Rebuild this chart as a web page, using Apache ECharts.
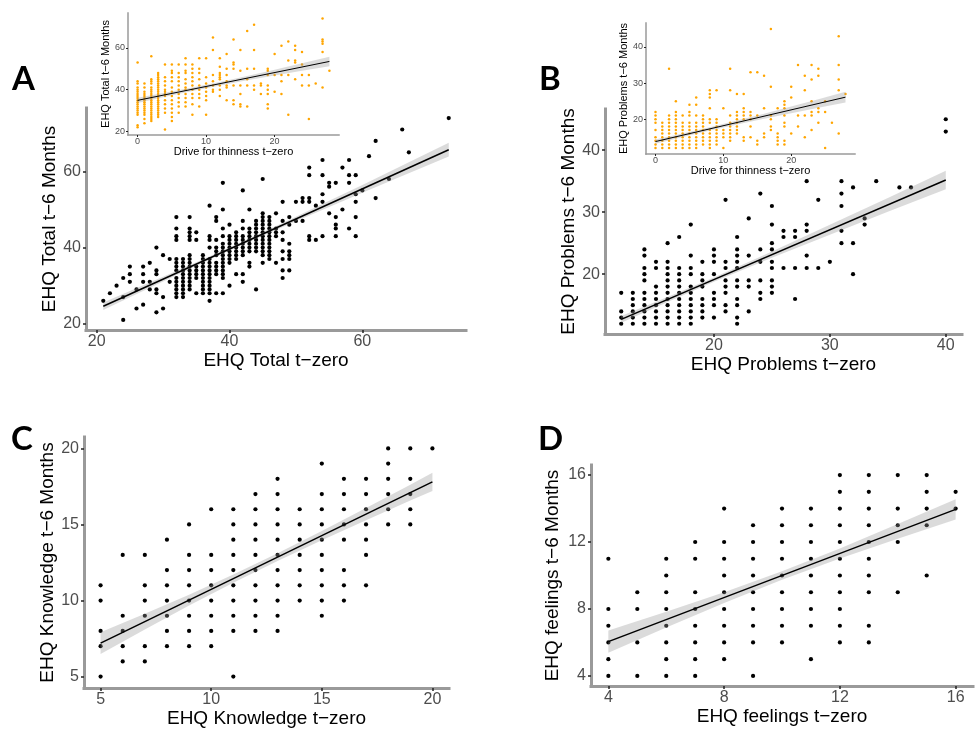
<!DOCTYPE html>
<html><head><meta charset="utf-8">
<script src="https://cdn.jsdelivr.net/npm/echarts@6/dist/echarts.min.js"></script>
<style>html,body{margin:0;padding:0;background:#fff}#c{width:977px;height:729px}</style>
</head><body><div id="c"></div>
<script>
// ---------- Panel A: EHQ Total ----------
const aX = [21,22,23,24,25,26,27,28,29,30,31,32,33,34,35,36,37,38,39,40,41,42,43,44,45,46,47,48,49,50,51,52,53,54,55,56,57,58,59,60,61,62,64,66,67,73];
const aY = [[26],[28],[30],[32,27,21],[35,33,31],[29,24],[35,33,31,25],[36,31,29],[40,34,33,29,28,23],[38,27,24],[37,31],
 [48,45,43,42,37,36,35,34,32,31,30,29,28,27],[37,36,35,34,33,32,31,30,29,28,27],[48,45,44,43,42,38,37,36,35,34,33,32,31,30,29],
 [44,42,35,34,33,32,28],[38,37,36,35,34,33,32,31,30,29,28],[51,43,42,40,37,36,35,34,33,32,31,30,29,28,26],
 [48,47,42,40,39,38,36,35,34,33,28],[57,50,45,43,41,40,39,38,37,36,35,34,33,32,28],[46,43,42,41,40,39,38,37,36,30],
 [44,43,42,41,40,39,38,37,33],[55,47,45,43,42,41,40,39,38,33,31],[50,45,44,43,42,41,40,39,36,35],[47,46,45,44,43,42,41,40,39,29],
 [58,49,48,47,46,45,44,43,42,41,40,39,38,36],[48,47,46,45,44,43,42,41,40,39,38,37],[49,45,44,43,36],[52,47,44,42,39,37,34,32],
 [48,46,41,39,38,37,34],[52,47],[53,52,47],[61,59,53,52,43,42],[51,42],[63,59,54,52,43],[57,56,49],[57,48,46,45,43],[61,50],
 [63,59,57,45],[59,54,52,48,43],[55],[64],[68,53],[58],[71],[65],[74]];
const aFit = [21, 24.6, 73, 65.7];
const aBandX = [21,25,30,35,40,45,50,55,60,65,73];
const aBandHalf = [1.0,0.8,0.6,0.45,0.4,0.45,0.6,0.8,1.0,1.3,1.8];
const aTicksX = [20,40,60], aTicksY = [20,40,60];

// ---------- Inset A: Drive for thinness vs EHQ Total ----------
const iaX = [0,1,2,3,4,5,6,7,8,9,10,11,12,13,14,15,16,17,18,19,20,21,22,23,24,25,26,27,28];
const iaY = [[53,44,43,41,40,39,38,37,36,35,34,33,32,31,30,29,28,23,22],[43,41,39,38,37,36,35,34,33,32,31,30,29,28,26,24],
 [56,45,44,43,41,40,39,38,37,36,35,34,33,32,31,30,29,28,27,26,25],[48,47,46,45,44,43,42,41,40,39,38,37,36,35,34,33,32,31,30,29,28,27],
 [52,46,44,42,40,39,38,37,35,33,31,29,21],[52,49,48,46,44,41,39,37,35,33,31,29,27,25],[52,48,46,44,42,40,38,36,34,32,29],
 [55,52,49,48,45,43,41,40,38,36,34,32],[52,50,48,46,44,42,40,38,36,33,28],[55,50,48,45,42,40,38,36,32],[55,46,43,41,39,37,35,28],
 [65,59,47,44,42,40,39],[55,51,48,47,46,45,42,40,37],[57,50,47,44,42,41,35],[64,53,52,50,42,35,33],[59,49,42,38,33,32],
 [68,50,45,42,32],[71,59,50,42,40],[43,42,38],[50,49,47,42,40,38,33,31],[57,47,39],[61,47,44,38],[63,54,47,28],[61,59,54,53,45],
 [58,52,47,42],[47,42,26],[43],[74,64,63,62,58,41],[49]];
const iaFit = [0, 34.9, 28, 53.5];
const iaBandX = [0,4,8,12,16,20,24,28];
const iaBandHalf = [1.2,0.95,0.8,0.85,1.05,1.4,1.8,2.3];
const iaTicksX = [0,10,20], iaTicksY = [20,40,60];

// ---------- Panel B: EHQ Problems ----------
const bX = [12,13,14,15,16,17,18,19,20,21,22,23,24,25,26,27,28,29,30,31,32,33,34,36,37,40];
const bY = [[17,14,13,12],[17,16,15,14,13,12],[24,23,21,20,19,17,16,15,14,13,12],[22,21,18,17,16,15,14,13,12],
 [25,22,21,20,19,18,17,16,15,14,13,12],[26,21,20,19,18,17,16,15,14,13,12],[28,23,21,20,18,17,16,15,14,13,12],
 [22,20,19,18,16,15,14,13],[24,23,22,20,17,16,15,13],[32,22,21,19,18,17,15,14],[26,24,23,22,21,19,18,16,15,13,12],
 [29,23,19,18,14],[33,24,22,19,17,16],[31,28,25,24,22,21,19,18,17],[27,26,21],[27,26,21,16],[35,28,27,23,21],[32,21],[22],
 [35,33,31,27,25],[34,25,20],[29,28],[35],[34],[34],[45,43]];
const bFit = [12, 12.7, 40, 35.2];
const bBandX = [12,16,20,25,30,35,40];
const bBandHalf = [0.55,0.4,0.35,0.5,0.8,1.1,1.5];
const bTicksX = [20,30,40], bTicksY = [20,30,40];

// ---------- Inset B: Drive for thinness vs EHQ Problems ----------
const ibX = [0,1,2,3,4,5,6,7,8,9,10,11,12,13,14,15,16,17,18,19,20,21,22,23,24,25,26,27,28];
const ibY = [[22,21,20,19,17,15,14,13,12],[19,18,17,16,15,14,13,12],[34,21,20,19,18,17,16,15,14,13,12],
 [25,22,21,20,19,18,17,16,15,14,13,12],[21,19,18,17,16,15,14,13,12],[24,22,21,19,18,17,16,15,14,13,12],
 [26,24,21,19,18,17,16,15,14,13,12],[21,20,19,18,17,16,15,14,13],[28,27,26,23,20,19,17,16,15,14,13,12],
 [28,20,19,18,17,16,15,14,13],[23,17,16,15,12],[34,28,21,19,18,17,16,15,14],[27,22,21,20,19,18,17,16],
 [27,23,22,21,20,15,14],[33,22,21,20,18,15],[33,21,14,13],[32,23,16,15],[45,29,21,20,18,17],[23,16,15,14,13],
 [25,24,23,21,19,18,14,13],[29,26,16],[35,21,18],[32,28,21,15],[35,31,25,22,21,17],[34,32,23,22,19],[25,22,12],[19],
 [43,35,31,28,16],[27]];
const ibFit = [0, 13.8, 28, 26.1];
const ibBandX = [0,4,8,12,16,20,24,28];
const ibBandHalf = [0.6,0.48,0.45,0.55,0.7,0.95,1.2,1.5];
const ibTicksX = [0,10,20], ibTicksY = [20,30,40];

// ---------- Panel C: EHQ Knowledge ----------
const cX = [5,6,7,8,9,10,11,12,13,14,15,16,17,18,19,20];
const cY = [[11,10,8,7,5],[13,9,8,7,6],[13,11,10,9,7,6],[14,12,11,10,9,8,7],[15,13,12,11,10,9,8,7],[16,13,12,11,10,9,8,7],
 [16,15,14,13,12,11,10,9,8,5],[17,16,15,14,13,12,11,10,9,8],[18,17,16,15,14,13,12,11,10,9,8],[16,15,14,13,12,11,10],
 [19,17,16,15,14,13,12,11,10,9],[18,17,16,15,14,12,11,10],[18,17,16,15,14,13,11],[20,19,18,17,16,15],[20,18,17,16,15],[20]];
const cFit = [5, 7.2, 20, 17.8];
const cBandX = [5,7,9,11,13,15,17,19,20];
const cBandHalf = [0.72,0.52,0.36,0.27,0.25,0.3,0.4,0.52,0.6];
const cTicks = [5,10,15,20];

// ---------- Panel D: EHQ feelings ----------
const dX = [4,5,6,7,8,9,10,11,12,13,14,15,16];
const dY = [[11,8,7,6,5,4],[9,8,6,4],[11,10,9,8,7,6,5,4],[12,11,9,8,7,6,5,4],[14,12,11,10,9,8,7,6,5],[13,12,11,10,9,8,7,6,4],
 [14,13,12,11,10,9,8,7,6],[14,13,12,11,10,9,8,7,5],[16,15,14,13,12,11,10,9,8,7,6],[16,15,14,13,12,11,10,9,7,6],
 [16,14,13,12,9],[16,15,14,13,10],[15,14]];
const dFit = [4, 6.05, 16, 13.95];
const dBandX = [4,6,8,10,12,14,16];
const dBandHalf = [0.66,0.47,0.32,0.25,0.3,0.44,0.6];
const dTicks = [4,8,12,16];

// ---------- build ----------
const FONT = 'Liberation Sans';
function flatten(xs, ys){ const out=[]; xs.forEach((x,i)=>ys[i].forEach(y=>out.push([x,y]))); return out; }

const panels = [
 {key:'A', grid:{left:86,top:108,width:380,height:222}, xr:[18.4,75.6], yr:[18.35,76.65], xt:aTicksX, yt:aTicksY,
  xs:aX, ys:aY, fit:aFit, bx:aBandX, bh:aBandHalf, xn:'EHQ Total t\u2212zero', yn:'EHQ Total t\u22126 Months', xg:18, yg:25, inset:false},
 {key:'B', grid:{left:605,top:109,width:357,height:225}, xr:[10.6,41.4], yr:[10.35,46.65], xt:bTicksX, yt:bTicksY,
  xs:bX, ys:bY, fit:bFit, bx:bBandX, bh:bBandHalf, xn:'EHQ Problems t\u2212zero', yn:'EHQ Problems t\u22126 Months', xg:18, yg:23, inset:false},
 {key:'C', grid:{left:84,top:437,width:365,height:251}, xr:[4.25,20.75], yr:[4.25,20.75], xt:cTicks, yt:cTicks,
  xs:cX, ys:cY, fit:cFit, bx:cBandX, bh:cBandHalf, xn:'EHQ Knowledge t\u2212zero', yn:'EHQ Knowledge t\u22126 Months', xg:20, yg:27, inset:false},
 {key:'D', grid:{left:591,top:465,width:382,height:221}, xr:[3.4,16.6], yr:[3.4,16.6], xt:dTicks, yt:dTicks,
  xs:dX, ys:dY, fit:dFit, bx:dBandX, bh:dBandHalf, xn:'EHQ feelings t\u2212zero', yn:'EHQ feelings t\u22126 Months', xg:20, yg:29, inset:false},
 {key:'iA', grid:{left:128,top:13,width:211,height:122}, xr:[-1.4,29.4], yr:[18.35,76.65], xt:iaTicksX, yt:iaTicksY,
  xs:iaX, ys:iaY, fit:iaFit, bx:iaBandX, bh:iaBandHalf, xn:'Drive for thinness t\u2212zero', yn:'EHQ Total t\u22126 Months', xg:10, yg:14, inset:true},
 {key:'iB', grid:{left:646,top:23,width:209,height:131}, xr:[-1.4,29.4], yr:[10.35,46.65], xt:ibTicksX, yt:ibTicksY,
  xs:ibX, ys:ibY, fit:ibFit, bx:ibBandX, bh:ibBandHalf, xn:'Drive for thinness t\u2212zero', yn:'EHQ Problems t\u22126 Months', xg:10, yg:13, inset:true}
];

const grids=[], xAxes=[], yAxes=[], series=[];
panels.forEach((p,i)=>{
  grids.push(Object.assign({containLabel:false}, p.grid));
  const lw = p.inset?1.5:3, fs = p.inset?9:16, ns = p.inset?11:19;
  const mk = (range, ticks, name, gap, isX)=>({
    gridIndex:i, type:'value', min:range[0], max:range[1],
    splitLine:{show:false},
    axisLine:{show:true, onZero:false, lineStyle:{color:'#9a9a9a', width:lw, cap:'square'}},
    axisTick:{show:true, customValues:ticks, length:p.inset?2:3, lineStyle:{color:'#222', width:p.inset?1:1.5}},
    axisLabel:{customValues:ticks, color:'#4d4d4d', fontSize:fs, fontFamily:FONT, margin:p.inset?(isX?2:3):(isX?4:5)},
    name:name, nameLocation:'middle', nameGap:gap,
    nameTextStyle:{color:'#000', fontSize:ns, fontFamily:FONT}
  });
  xAxes.push(mk(p.xr, p.xt, p.xn, p.xg, true));
  yAxes.push(mk(p.yr, p.yt, p.yn, p.yg, false));
  const zb = p.inset?10:0;
  series.push({type:'scatter', xAxisIndex:i, yAxisIndex:i, data:flatten(p.xs,p.ys), symbolSize:p.inset?2.5:4.2,
    itemStyle:{color:p.inset?'#FFA500':'#000', opacity:1}, z:2+zb, silent:true});
  const f = p.fit;
  const pts = p.bx.map((x,k)=>{ const v = f[1]+(f[3]-f[1])*(x-f[0])/(f[2]-f[0]); return [x, v-p.bh[k], v+p.bh[k]]; });
  series.push({type:'custom', xAxisIndex:i, yAxisIndex:i, z:3+zb, silent:true, data:pts, encode:{x:0,y:[1,2]},
    renderItem:(params, api)=>{
      if(params.dataIndex!==0) return {type:'group', children:[]};
      const up = pts.map(q=>api.coord([q[0],q[2]]));
      const lo = pts.map(q=>api.coord([q[0],q[1]])).reverse();
      return {type:'polygon', shape:{points:up.concat(lo)}, style:{fill:'rgba(153,153,153,0.35)'}};
    }});
  series.push({type:'line', xAxisIndex:i, yAxisIndex:i, data:[[f[0],f[1]],[f[2],f[3]]], symbol:'none', showSymbol:false,
    lineStyle:{color:'#000', width:p.inset?1:1.5}, z:4+zb, silent:true});
});

const letters = [['A',12,81],['B',539,81],['C',11,441],['D',538,441]];
const graphic = letters.map(l=>({type:'text', left:l[1], top:l[2]-18, style:{text:l[0], font:'bold 33px Lato', fill:'#000'}}));

const chart = echarts.init(document.getElementById('c'), null, {renderer:'canvas'});
chart.setOption({animation:false, backgroundColor:'#fff', grid:grids, xAxis:xAxes, yAxis:yAxes, series:series, graphic:graphic});
</script></body></html>
